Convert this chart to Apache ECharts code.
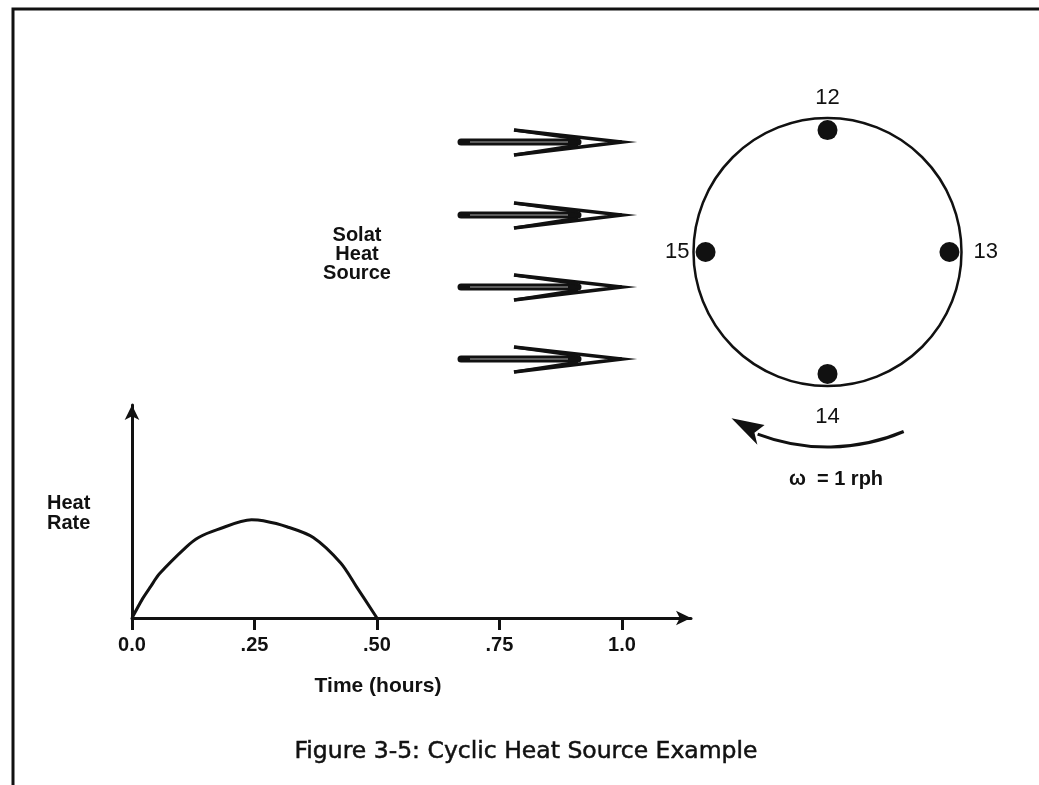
<!DOCTYPE html>
<html>
<head>
<meta charset="utf-8">
<title>Cyclic Heat Source Example</title>
<script src="https://cdn.jsdelivr.net/npm/echarts@6/dist/echarts.min.js"></script>
<style>
  html, body { margin: 0; padding: 0; background: #fff; }
  #chart { width: 1039px; height: 785px; }
</style>
</head>
<body>
<div id="chart"></div>
<script>
// time axis ticks
const tickValues = [0, 0.25, 0.5, 0.75, 1.0]
const tickLabels = ["0.0", ".25", ".50", ".75", "1.0"]

// heat rate curve (relative units, peak ~1)
const timeHours = [0, 0.022, 0.038, 0.056, 0.11, 0.136, 0.174, 0.244, 0.268, 0.316, 0.37, 0.426, 0.458, 0.5]
const heatRate = [0, 0.20, 0.32, 0.45, 0.72, 0.82, 0.90, 1.0, 0.99, 0.93, 0.82, 0.56, 0.32, 0]

// points on the rotating body (angle clockwise from top)
const stationNames = ["12", "13", "14", "15"]
const stationAngles = [0, 90, 180, 270]
const stationRadius = [0.91, 0.91, 0.91, 0.91]

const ink = "#111"
const bold = "bold 20px 'Liberation Sans', Arial, sans-serif"

const labelPlace = [
  { position: "top", distance: 11 },
  { position: "right", distance: 14 },
  { position: "bottom", distance: 22 },
  { position: "left", distance: 6 }
]

// the four "solar heat" arrows
const arrowRows = [142, 215, 287, 359]
const arrowGraphics = []
arrowRows.forEach(y => {
  arrowGraphics.push(
    { type: "line", shape: { x1: 461, y1: y, x2: 578, y2: y },
      style: { stroke: ink, lineWidth: 7, lineCap: "round" } },
    { type: "line", shape: { x1: 470, y1: y, x2: 568, y2: y },
      style: { stroke: "#fff", lineWidth: 0.8, opacity: 0.8 } },
    { type: "polyline", shape: { points: [[514, y - 12], [622, y], [514, y + 13]] },
      style: { stroke: ink, lineWidth: 3.5, fill: "none", lineJoin: "miter" } },
    { type: "polyline", shape: { points: [[514, y - 12], [578, y - 3]] },
      style: { stroke: ink, lineWidth: 3, fill: "none" } },
    { type: "polyline", shape: { points: [[514, y + 13], [578, y + 3]] },
      style: { stroke: ink, lineWidth: 3, fill: "none" } }
  )
})

const deg = Math.PI / 180
const cx = 827.5, cy = 252, rr = 195
const pt = (a, r) => [cx + r * Math.cos(a * deg), cy + r * Math.sin(a * deg)]

const chart = echarts.init(document.getElementById("chart"))

chart.setOption({
  animation: false,
  backgroundColor: "#fff",
  grid: { left: 132, top: 405, width: 559, height: 213 },
  xAxis: {
    type: "value",
    min: 0,
    max: 1.141,
    splitLine: { show: false },
    axisLine: {
      show: true,
      symbol: ["none", "arrow"],
      symbolSize: [11, 15],
      lineStyle: { color: ink, width: 3 }
    },
    axisTick: {
      show: true,
      customValues: tickValues,
      length: 12,
      lineStyle: { color: ink, width: 3 }
    },
    axisLabel: {
      customValues: tickValues,
      margin: 17,
      color: ink,
      fontSize: 20,
      fontWeight: "bold",
      fontFamily: "Liberation Sans",
      formatter: v => {
        const i = tickValues.findIndex(t => Math.abs(t - v) < 1e-6)
        return i >= 0 ? tickLabels[i] : ""
      }
    }
  },
  yAxis: {
    type: "value",
    min: 0,
    max: 2.17,
    splitLine: { show: false },
    axisTick: { show: false },
    axisLabel: { show: false },
    axisLine: {
      show: true,
      symbol: ["none", "arrow"],
      symbolSize: [11, 15],
      lineStyle: { color: ink, width: 3 }
    }
  },
  polar: { center: [cx, cy], radius: 134 },
  angleAxis: {
    type: "value",
    min: 0,
    max: 360,
    startAngle: 90,
    clockwise: true,
    axisLine: { show: true, lineStyle: { color: ink, width: 2.5 } },
    axisTick: { show: false },
    axisLabel: { show: false },
    splitLine: { show: false }
  },
  radiusAxis: { min: 0, max: 1, show: false },
  series: [
    {
      name: "Heat Rate",
      type: "line",
      data: timeHours.map((t, i) => [t, heatRate[i]]),
      smooth: 0.3,
      showSymbol: false,
      silent: true,
      lineStyle: { color: ink, width: 3 }
    },
    {
      name: "Stations",
      type: "scatter",
      coordinateSystem: "polar",
      symbolSize: 20,
      itemStyle: { color: ink, opacity: 1 },
      label: {
        show: true,
        formatter: "{b}",
        color: ink,
        opacity: 1,
        fontSize: 22,
        fontFamily: "Liberation Sans"
      },
      data: stationNames.map((n, i) => ({
        name: n,
        value: [stationRadius[i], stationAngles[i]],
        label: labelPlace[i]
      }))
    }
  ],
  graphic: [
    // frame
    { type: "polyline", shape: { points: [[13, 790], [13, 9], [1045, 9]] },
      style: { stroke: ink, lineWidth: 3, fill: "none" } },
    ...arrowGraphics,
    // rotation arrow
    { type: "arc", shape: { cx: cx, cy: cy, r: rr, startAngle: 67 * deg, endAngle: 111 * deg, clockwise: true },
      style: { stroke: ink, lineWidth: 3, fill: "none" } },
    { type: "polygon",
      shape: { points: [pt(120, 192), pt(110, 184), pt(112, 195), pt(110, 205)] },
      style: { fill: ink } },
    { type: "text", style: { text: "ω  = 1 rph", x: 836, y: 479, align: "center", verticalAlign: "middle",
      font: "bold 20px 'Liberation Sans', Arial, sans-serif", fill: ink } },
    { type: "text", style: { text: "Solat\nHeat\nSource", x: 357, y: 254, align: "center", verticalAlign: "middle",
      font: bold, lineHeight: 19, fill: ink } },
    { type: "text", style: { text: "Heat\nRate", x: 47, y: 513, align: "left", verticalAlign: "middle",
      font: bold, lineHeight: 20, fill: ink } },
    { type: "text", style: { text: "Time (hours)", x: 378, y: 686, align: "center", verticalAlign: "middle",
      font: "bold 21px 'Liberation Sans', Arial, sans-serif", fill: ink } },
    { type: "text", style: { text: "Figure 3-5: Cyclic Heat Source Example", x: 526, y: 752, align: "center", verticalAlign: "middle",
      font: "23.5px 'DejaVu Sans', sans-serif", fill: ink, stroke: ink, lineWidth: 0.5 } }
  ]
})
</script>
</body>
</html>
